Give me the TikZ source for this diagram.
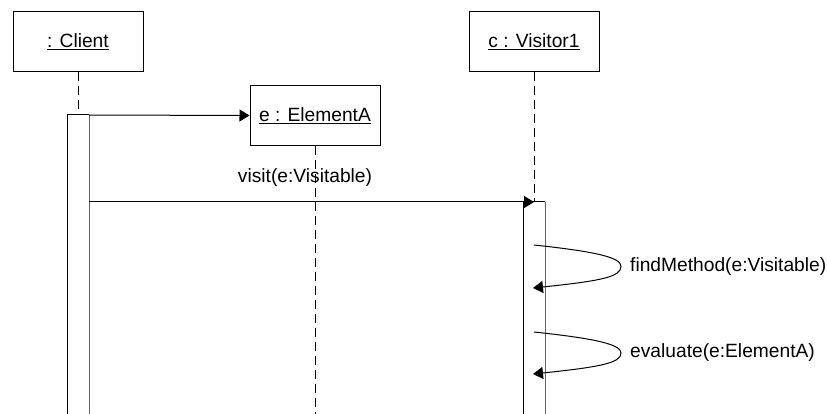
\documentclass[tikz,border=0pt]{standalone}
\usepackage{fontspec}
\setmainfont{Liberation Sans}
\usetikzlibrary{arrows.meta, positioning, calc}

\tikzset{
  object/.style={draw, line width=1pt, minimum width=130pt, minimum height=60pt, inner sep=0pt, font=\fontsize{19.2}{22}\selectfont},
  lifeline/.style={line width=1pt, dash pattern=on 9pt off 5pt},
  msg/.style={line width=1pt, -{Triangle[length=10pt,width=12pt]}},
  msglabel/.style={font=\fontsize{19.2}{22}\selectfont, inner sep=0pt},
  actbar/.style={line width=1pt}
}

\begin{document}
\begin{tikzpicture}[x=1pt, y=-1pt]
    \useasboundingbox (0,0) rectangle (827,414);

    % objects
    \node[object] (client)  at (78,42)   {\underline{: Client}};
    \node[object] (elemA)   at (315,115.5) {\underline{e : ElementA}};
    \node[object] (visitor) at (534,42)  {\underline{c : Visitor1}};

    % activation bars (open at the bottom)
    \coordinate (clientTop) at (78,115);
    \coordinate (visitTop)  at (534,202);
    \draw[actbar] (67,414) -- (67,115) -- (89,115);
    \draw[actbar, gray!80!black] (89,115) -- (89,414);
    \draw[actbar] (523,414) -- (523,202) -- (545,202);
    \draw[actbar, gray!80!black] (545,202) -- (545,414);

    % lifelines
    \draw[lifeline] (client.south) -- (clientTop);
    \draw[lifeline] (visitor.south) -- (visitTop);
    \draw[lifeline] (elemA.south) -- (315,414);

    % create e
    \coordinate (createFrom) at (89,115);
    \draw[msg] (createFrom) -- (elemA.west);

    % visit call
    \coordinate (visitFrom) at (89,202);
    \draw[msg] (visitFrom) -- (visitTop);
    \node[msglabel] (visitLbl) at (305,178) {visit(e:Visitable)};

    % self calls on the visitor
    \coordinate (find1) at (534,245);
    \coordinate (find2) at (533,288);
    \draw[msg] (find1) .. controls (600,252) and (621,258) .. (621,266.5)
                       .. controls (621,277) and (600,281) .. (find2);
    \node[msglabel, anchor=west] (findLbl) at (630,267) {findMethod(e:Visitable)};

    \coordinate (eval1) at (534,332);
    \coordinate (eval2) at (533,374);
    \draw[msg] (eval1) .. controls (600,339) and (621,345) .. (621,353)
                       .. controls (621,363) and (600,367) .. (eval2);
    \node[msglabel, anchor=west] (evalLbl) at (630,353) {evaluate(e:ElementA)};
\end{tikzpicture}
\end{document}
